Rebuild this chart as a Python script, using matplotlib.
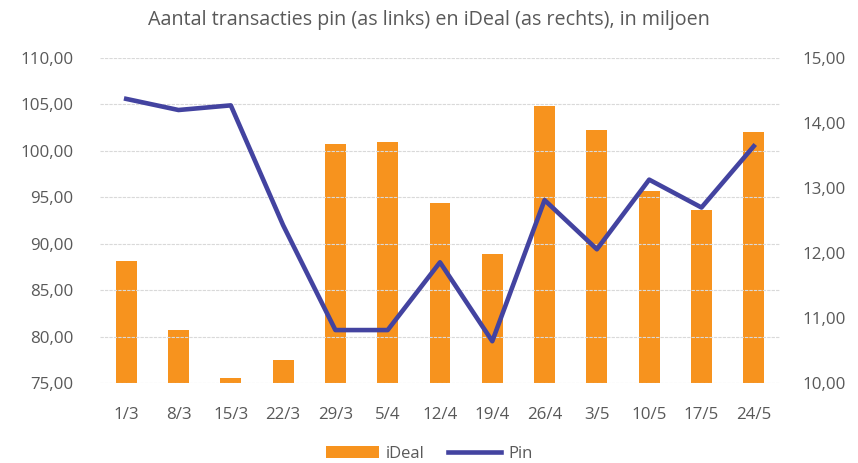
import matplotlib
matplotlib.use("Agg")
import matplotlib.pyplot as plt
from matplotlib.ticker import FuncFormatter

categories = ["1/3", "8/3", "15/3", "22/3", "29/3", "5/4", "12/4", "19/4", "26/4", "3/5", "10/5", "17/5", "24/5"]
ideal = [11.87, 10.81, 10.07, 10.36, 13.67, 13.71, 12.77, 11.98, 14.26, 13.90, 12.96, 12.66, 13.86]
pin = [105.6, 104.4, 104.9, 92.0, 80.7, 80.7, 88.0, 79.5, 94.7, 89.4, 96.9, 93.9, 100.5]

plt.rcParams['font.family'] = ['Open Sans', 'DejaVu Sans']
txt = '#595959'
fig = plt.figure(figsize=(8.58, 4.63), dpi=100)
ax = fig.add_axes([0.1166, 0.1728, 0.909 - 0.1166, 0.8747 - 0.1728])
ax2 = ax.twinx()
x = list(range(len(categories)))

ax2.bar(x, [v - 10 for v in ideal], bottom=10, width=0.4, color='#F7931E', label='iDeal', zorder=2)
ax.plot(x, pin, color='#4343A0', linewidth=3.3, label='Pin', zorder=3, solid_joinstyle='round')
ax.set_zorder(ax2.get_zorder() + 1)
ax.patch.set_visible(False)

ax.set_ylim(75, 110)
ax.set_yticks([75, 80, 85, 90, 95, 100, 105, 110])
ax2.set_ylim(10, 15)
ax2.set_yticks([10, 11, 12, 13, 14, 15])
fmt = FuncFormatter(lambda v, p: f"{v:.2f}".replace('.', ','))
ax.yaxis.set_major_formatter(fmt)
ax2.yaxis.set_major_formatter(fmt)
ax.set_xlim(-0.5, 12.5)
ax.set_xticks(x)
ax.set_xticklabels(categories)
for a in (ax, ax2):
    for s in a.spines.values():
        s.set_visible(False)
    a.tick_params(length=0, colors=txt, labelsize=12.2)
ax.tick_params(axis='y', pad=19)
ax2.tick_params(axis='y', pad=16)
ax.tick_params(axis='x', pad=17)
ax.grid(axis='y', color='#d9d9d9', linewidth=0.8, linestyle=(0, (3, 1)))
ax.set_axisbelow(True)

fig.suptitle("Aantal transacties pin (as links) en iDeal (as rechts), in miljoen",
             color=txt, fontsize=14.2, y=0.978)
h1, l1 = ax2.get_legend_handles_labels()
h2, l2 = ax.get_legend_handles_labels()
fig.legend(h1 + h2, l1 + l2, loc='lower center', bbox_to_anchor=(0.5, -0.03), ncol=2,
           frameon=False, fontsize=12, labelcolor=txt, handlelength=3.2, columnspacing=1.4,
           handletextpad=0.4)
fig.savefig("out.png", dpi=100)
